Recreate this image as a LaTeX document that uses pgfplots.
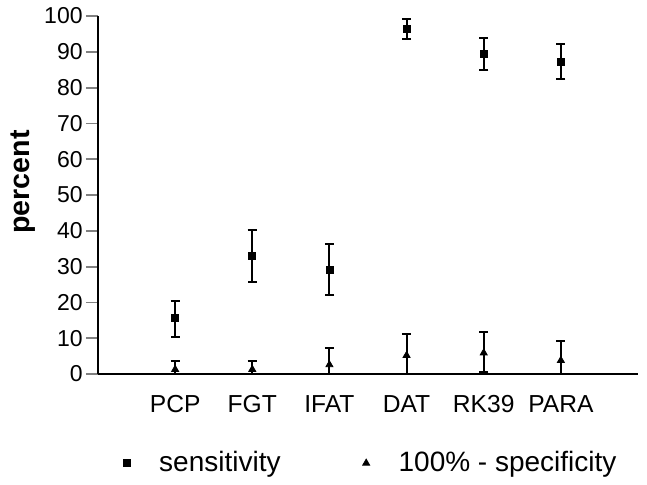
\documentclass[border=0pt]{standalone}
\usepackage{pgfplots}
\pgfplotsset{compat=1.18}
\usepackage{pgfplotstable}
\usepackage{fontspec}
\setmainfont{Liberation Sans}

% x  y  err+  err-
\pgfplotstableread{
x y ep em
1 15.6 4.9 5.4
2 33.0 7.2 7.2
3 29.2 7.1 7.0
4 96.4 2.8 2.9
5 89.5 4.4 4.5
6 87.2 5.0 4.8
}\sens
\pgfplotstableread{
x y ep em
1 1.3 2.3 1.3
2 1.3 2.3 1.3
3 2.6 4.7 2.6
4 5.2 6.1 5.2
5 5.9 5.8 5.25
6 3.8 5.4 3.8
}\spec

\pgfplotsset{markonly/.style={legend image code/.code={%
  \path[draw=none] (0cm,0cm) -- (0.95cm,0cm);
  \draw[##1, only marks] plot coordinates {(0.45cm,0cm)};}}}

\begin{document}
\begin{tikzpicture}
\useasboundingbox (-49pt,-55pt) rectangle (274.5pt,187pt);
\begin{axis}[
  scale only axis, width=270pt, height=179pt,
  xmin=0, xmax=7, ymin=0, ymax=100,
  axis x line=bottom, axis y line=left,
  axis line style={line width=1pt,-},
  x axis line style={line width=1.1pt},
  xtick={1,2,3,4,5,6},
  xticklabels={PCP,FGT,IFAT,DAT,RK39,PARA},
  major x tick style={draw=none},
  ytick={0,10,...,100},
  tick align=outside, major tick length=6pt,
  major y tick style={line width=0.9pt},
  /pgf/number format/assume math mode=true,
  yticklabel style={font=\fontsize{11.5}{12}\selectfont, inner sep=1.5pt},
  xticklabel style={font=\fontsize{12.3}{13}\selectfont, yshift=-1pt},
  ylabel={percent},
  ylabel style={font=\fontsize{14.3}{15}\bfseries\selectfont, at={(axis description cs:-0.139,0.536)}, anchor=center},
  legend columns=2,
  legend style={draw=none, fill=none, at={(axis description cs:-0.006,-0.249)}, anchor=west,
    font=\fontsize{14}{15}\selectfont,
    /tikz/every even column/.append style={column sep=28pt}},
  error bars/error bar style={line width=1pt, black},
  error bars/error mark options={rotate=90, mark size=2.3pt, line width=1pt, black},
]
\addplot[only marks, markonly, mark=square*, mark size=1.75pt, black,
  error bars/.cd, y dir=both, y explicit]
  table[x=x, y=y, y error plus=ep, y error minus=em] {\sens};
\addlegendentry{sensitivity}
\addplot[only marks, markonly, mark=triangle*, mark size=2pt, black,
  error bars/.cd, y dir=both, y explicit]
  table[x=x, y=y, y error plus=ep, y error minus=em] {\spec};
\addlegendentry{100\% - specificity}
\end{axis}
\end{tikzpicture}
\end{document}
